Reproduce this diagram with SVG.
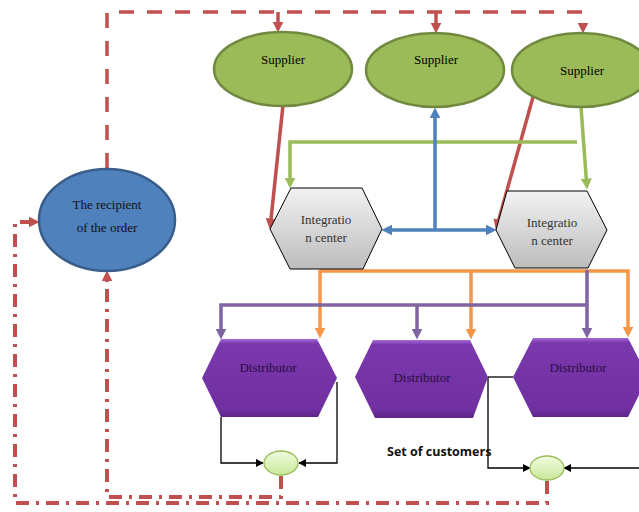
<svg xmlns="http://www.w3.org/2000/svg" width="639" height="512" viewBox="0 0 639 512">
<style>
.serif{font-family:"Liberation Serif","Times New Roman",serif;font-size:13px;text-anchor:middle}
.sup{fill:#9bbb59;stroke:#71893f;stroke-width:2.5}
.rec{fill:#4f81bd;stroke:#385d8a;stroke-width:2.5}
.ic{fill:url(#gIC);stroke:#000;stroke-width:1}
.dist{fill:url(#gD);stroke:none}
.small{fill:url(#gS);stroke:#9bbb59;stroke-width:1.3}
.ln{fill:none;stroke-width:3.5}
.red{stroke:#c0504d}
.grn{stroke:#9bbb59}
.blu{stroke:#4f81bd}
.org{stroke:#f79646}
.pur{stroke:#8064a2}
.blk{fill:none;stroke:#000;stroke-width:1.3}
.dash{stroke-dasharray:15 13}
.dashdot{stroke-dasharray:13 7 3 7;stroke-width:4}
</style>
<defs>
<linearGradient id="gIC" x1="0" y1="0" x2="0" y2="1"><stop offset="0" stop-color="#f2f2f2"/><stop offset="1" stop-color="#bcbcbc"/></linearGradient>
<linearGradient id="gD" x1="0" y1="0" x2="0" y2="1"><stop offset="0" stop-color="#a46ad6"/><stop offset="0.06" stop-color="#7a38ad"/><stop offset="0.9" stop-color="#7030a0"/><stop offset="1" stop-color="#5e2688"/></linearGradient>
<linearGradient id="gS" x1="0" y1="0" x2="0" y2="1"><stop offset="0" stop-color="#f2fbe0"/><stop offset="1" stop-color="#c8e89a"/></linearGradient>
<marker id="aRed" viewBox="0 0 10 10" refX="4" refY="5" markerWidth="11" markerHeight="11" markerUnits="userSpaceOnUse" orient="auto"><path d="M0,0 L10,5 L0,10 z" fill="#c0504d"/></marker>
<marker id="aGrn" viewBox="0 0 10 10" refX="4" refY="5" markerWidth="11" markerHeight="11" markerUnits="userSpaceOnUse" orient="auto"><path d="M0,0 L10,5 L0,10 z" fill="#9bbb59"/></marker>
<marker id="aBlu" viewBox="0 0 10 10" refX="4" refY="5" markerWidth="11" markerHeight="11" markerUnits="userSpaceOnUse" orient="auto-start-reverse"><path d="M0,0 L10,5 L0,10 z" fill="#4f81bd"/></marker>
<marker id="aOrg" viewBox="0 0 10 10" refX="4" refY="5" markerWidth="11" markerHeight="11" markerUnits="userSpaceOnUse" orient="auto"><path d="M0,0 L10,5 L0,10 z" fill="#f79646"/></marker>
<marker id="aPur" viewBox="0 0 10 10" refX="4" refY="5" markerWidth="11" markerHeight="11" markerUnits="userSpaceOnUse" orient="auto"><path d="M0,0 L10,5 L0,10 z" fill="#8064a2"/></marker>
<marker id="aBlk" viewBox="0 0 10 10" refX="9" refY="5" markerWidth="8" markerHeight="8" markerUnits="userSpaceOnUse" orient="auto"><path d="M0,0 L10,5 L0,10 z" fill="#000"/></marker>
</defs>

<g id="connectors">
<path class="ln red dash" d="M107,168 V12 H583 V27" marker-end="url(#aRed)"/>
<path class="ln red" d="M278,12 V26" marker-end="url(#aRed)"/>
<path class="ln red" d="M436,12 V27" marker-end="url(#aRed)"/>
<path class="ln red" d="M283,105 L270.6,223" marker-end="url(#aRed)"/>
<path class="ln red" d="M533,97 L497.6,224" marker-end="url(#aRed)"/>
<path class="ln grn" d="M577,142 H290 V182" marker-end="url(#aGrn)"/>
<path class="ln grn" d="M581,107 L586.6,183" marker-end="url(#aGrn)"/>
<path class="ln blu" d="M435,230 V114" marker-end="url(#aBlu)"/>
<path class="ln blu" d="M388,230 H490" marker-start="url(#aBlu)" marker-end="url(#aBlu)"/>
<path class="ln org" d="M320,271 H628 V331" marker-end="url(#aOrg)"/>
<path class="ln org" d="M320,270 V332" marker-end="url(#aOrg)"/>
<path class="ln org" d="M471,271 V333" marker-end="url(#aOrg)"/>
<path class="ln pur" d="M587,270 V332" marker-end="url(#aPur)"/>
<path class="ln pur" d="M587,305 H221 V333" marker-end="url(#aPur)"/>
<path class="ln pur" d="M417,305 V333" marker-end="url(#aPur)"/>
<path class="blk" d="M221,417 V463 H263" marker-end="url(#aBlk)"/>
<path class="blk" d="M337,382 V463 H299" marker-end="url(#aBlk)"/>
<path class="blk" d="M488,377 H513"/>
<path class="blk" d="M488,377 V468 H530" marker-end="url(#aBlk)"/>
<path class="blk" d="M639,468 H564" marker-end="url(#aBlk)"/>
<path class="ln red dashdot" d="M547,481 V503 H15 V222 H33" marker-end="url(#aRed)"/>
<path class="ln red dashdot" d="M281,476 V497 H107 V277" marker-end="url(#aRed)"/>
</g>

<g id="supplier1"><ellipse class="sup" cx="283" cy="69" rx="69" ry="37"/><text class="serif" x="283" y="64">Supplier</text></g>
<g id="supplier2"><ellipse class="sup" cx="435" cy="70" rx="69" ry="37"/><text class="serif" x="436" y="64">Supplier</text></g>
<g id="supplier3"><ellipse class="sup" cx="581" cy="70" rx="69" ry="37"/><text class="serif" x="582" y="75">Supplier</text></g>
<g id="recipient"><ellipse class="rec" cx="107" cy="220" rx="68" ry="51"/><text class="serif" x="107" y="209" fill="#111">The recipient</text><text class="serif" x="107" y="232" fill="#111">of the order</text></g>
<g id="integration1"><polygon class="ic" points="291,188 362,188 382,229 363,269 290,269 270,229"/><text class="serif" x="326" y="224" fill="#333">Integratio</text><text class="serif" x="326" y="242" fill="#333">n center</text></g>
<g id="integration2"><polygon class="ic" points="507,191 587,191 607,230 588,268 515,268 496,230"/><text class="serif" x="552" y="227" fill="#333">Integratio</text><text class="serif" x="552" y="245" fill="#333">n center</text></g>
<g id="distributor1"><polygon class="dist" points="221,339 317,339 337,378 318,417 221,417 202,378"/><text class="serif" x="268" y="372" fill="#2a0c40">Distributor</text></g>
<g id="distributor2"><polygon class="dist" points="373,340 470,340 488,377 473,418 375,418 355,377"/><text class="serif" x="422" y="382" fill="#2a0c40">Distributor</text></g>
<g id="distributor3"><polygon class="dist" points="533,338 628,338 648,377 628,417 533,417 513,377"/><text class="serif" x="578" y="372" fill="#2a0c40">Distributor</text></g>
<g id="customer1"><ellipse class="small" cx="281" cy="463" rx="17" ry="12"/></g>
<g id="customer2"><ellipse class="small" cx="547" cy="468" rx="17" ry="12"/></g>
<g id="label"><text x="387" y="456" style="font-family:'Open Sans','Liberation Sans',sans-serif;font-size:12.5px;font-weight:bold" fill="#111">Set of customers</text></g>
</svg>
